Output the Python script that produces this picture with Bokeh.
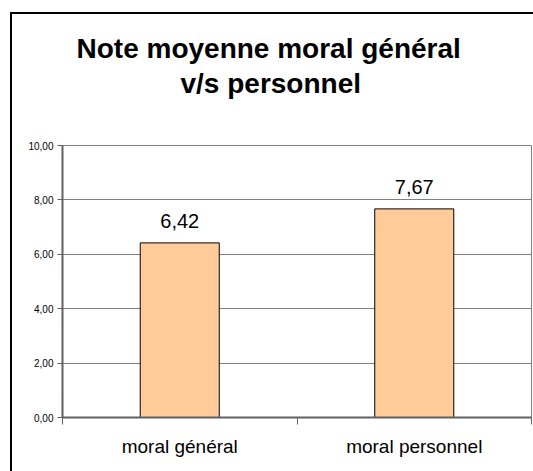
from bokeh.plotting import figure
from bokeh.models import FixedTicker, Label, Range1d, Title, InlineStyleSheet
from bokeh.embed import file_html
from bokeh.resources import INLINE

# ---- data ----
categories = ["moral général", "moral personnel"]
values = [6.42, 7.67]
value_labels = ["6,42", "7,67"]
y_ticks = [0, 2, 4, 6, 8, 10]
y_tick_labels = ["0,00", "2,00", "4,00", "6,00", "8,00", "10,00"]
title_lines = ["Note moyenne moral général", "v/s personnel"]

FONT = "Liberation Sans"
W, H = 533, 471
FL, FR, FT, FB = 62, 2, 145, 54  # frame borders (px)
n = len(categories)

# outer chart border (left and top edges visible), drawn as host background
border_css = InlineStyleSheet(css="""
:host {
  background:
    linear-gradient(#000, #000) 10px 12px / 2px calc(100% - 12px) no-repeat,
    linear-gradient(#000, #000) 10px 12px / calc(100% - 10px) 2px no-repeat,
    #fff;
}
""")

p = figure(width=W, height=H, output_backend="svg", toolbar_location=None,
           x_range=Range1d(0, n), y_range=Range1d(0, 10),
           min_border_left=FL, min_border_right=FR,
           min_border_top=FT, min_border_bottom=FB,
           background_fill_color="white", border_fill_color=None,
           stylesheets=[border_css])
p.outline_line_color = "#808080"
p.outline_line_width = 1

xs = [i + 0.5 for i in range(n)]
p.vbar(x=xs, top=values, width=0.337, bottom=0,
       fill_color="#FFCC99", line_color="black", line_width=1)

# value labels
for x, v, t in zip(xs, values, value_labels):
    p.add_layout(Label(x=x, y=v, text=t, text_align="center",
                       text_baseline="alphabetic", y_offset=22,
                       text_font=FONT, text_font_size="20px",
                       text_color="black"))

# y axis
yax = p.yaxis[0]
yax.ticker = FixedTicker(ticks=y_ticks, minor_ticks=[])
yax.major_label_overrides = {t: l for t, l in zip(y_ticks, y_tick_labels)}
yax.major_label_text_font = FONT
yax.major_label_text_font_size = "10px"
yax.major_label_text_color = "black"
yax.major_tick_out = 5
yax.major_tick_in = 0
yax.minor_tick_out = 0
yax.minor_tick_in = 0
yax.major_label_standoff = 4
yax.axis_line_color = "#606060"
yax.axis_line_width = 2
yax.major_tick_line_color = "#606060"
yax.major_tick_line_width = 1

# x axis
xax = p.xaxis[0]
xax.ticker = FixedTicker(ticks=xs, minor_ticks=list(range(n + 1)))
xax.major_label_overrides = {x: c for x, c in zip(xs, categories)}
xax.major_label_text_font = FONT
xax.major_label_text_font_size = "19px"
xax.major_label_text_color = "black"
xax.major_tick_out = 0
xax.major_tick_in = 0
xax.minor_tick_out = 7
xax.minor_tick_in = 0
xax.minor_tick_line_color = "#606060"
xax.minor_tick_line_width = 1
xax.major_label_standoff = 11
xax.axis_line_color = "#606060"
xax.axis_line_width = 2

p.xgrid.visible = False
p.ygrid.ticker = FixedTicker(ticks=y_ticks)
p.ygrid.grid_line_color = "#808080"
p.ygrid.grid_line_width = 1

# title (two lines; the later-added one sits further from the frame)
p.add_layout(Title(text=title_lines[1], align="left", offset=118,
                   standoff=0, vertical_align="top",
                   padding=dict(left=0, right=0, top=0, bottom=45),
                   text_font=FONT, text_font_size="28px",
                   text_font_style="bold", text_color="black"), "above")
p.add_layout(Title(text=title_lines[0], align="left", offset=14,
                   standoff=0, vertical_align="bottom",
                   padding=dict(left=0, right=0, top=0, bottom=4),
                   text_font=FONT, text_font_size="28px",
                   text_font_style="bold", text_color="black"), "above")

open("out.html", "w").write(file_html(p, INLINE))
